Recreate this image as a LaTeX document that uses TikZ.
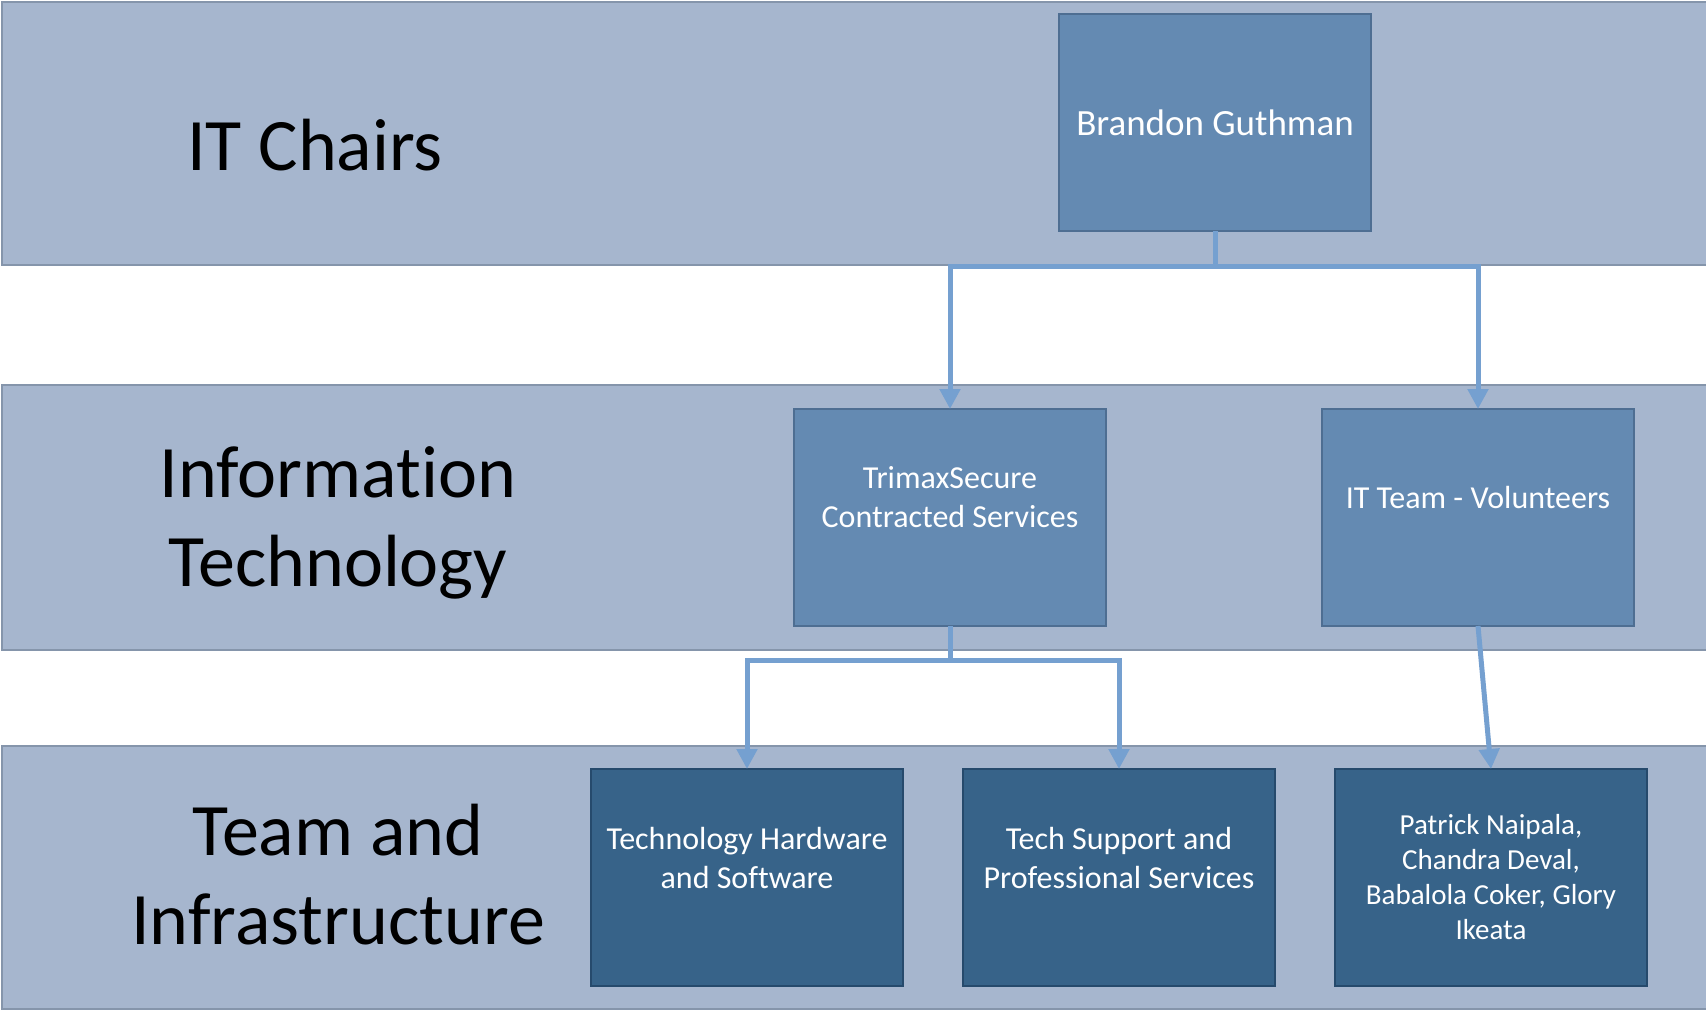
\documentclass[tikz,border=0pt]{standalone}
\usepackage{fontspec}
\setmainfont{Carlito}[Ligatures=NoCommon]
\usetikzlibrary{arrows.meta,positioning}
\definecolor{bandfill}{HTML}{A6B6CE}
\definecolor{bandline}{HTML}{8595AB}
\definecolor{midfill}{HTML}{648AB2}
\definecolor{midline}{HTML}{4E6E92}
\definecolor{lowfill}{HTML}{376389}
\definecolor{lowline}{HTML}{264A6C}
\definecolor{linkblue}{HTML}{75A0D0}
\tikzset{
  band/.style={draw=bandline,fill=bandfill,line width=2pt,anchor=north west,
    minimum width=1760pt,minimum height=263pt,inner sep=0pt,outer sep=0pt},
  bandlabel/.style={font=\fontsize{74}{89}\selectfont,align=center,text=black},
  midbox/.style={draw=midline,fill=midfill,line width=2pt,anchor=north west,
    minimum width=312pt,minimum height=217pt,inner sep=0pt,outer sep=0pt},
  lowbox/.style={midbox,draw=lowline,fill=lowfill},
  boxtext/.style={text=white,align=center,font=\fontsize{32}{39}\selectfont},
  link/.style={draw=linkblue,line width=5pt,-{Triangle[width=20pt,length=20pt]}},
}
\begin{document}
\begin{tikzpicture}[x=1pt,y=-1pt]
\useasboundingbox (0,0) rectangle (1706,1010);
% lanes
\node[band] (chairs) at (2,2) {};
\node[band,minimum height=265pt] (infotech) at (2,385) {};
\node[band] (infra) at (2,746) {};
\node[bandlabel] (chairslbl) at (315,145) {IT Chairs};
\node[bandlabel] (infotechlbl) at (338,523) {Information\\Technology};
\node[bandlabel] (infralbl) at (338,875) {Team and\\Infrastructure};
% boxes
\node[midbox] (brandon) at (1059,14) {};
\node[midbox] (trimax) at (794,409) {};
\node[midbox] (itteam) at (1322,409) {};
\node[lowbox] (hardware) at (591,769) {};
\node[lowbox] (support) at (963,769) {};
\node[lowbox] (volunteers) at (1335,769) {};
\node[boxtext,font=\fontsize{37}{44}\selectfont] (brandontxt) at (brandon.center) {Brandon Guthman};
\node[boxtext] (trimaxtxt) at ([yshift=20pt]trimax.center) {TrimaxSecure\\Contracted Services};
\node[boxtext] (itteamtxt) at ([yshift=20pt]itteam.center) {IT Team - Volunteers};
\node[boxtext] (hardwaretxt) at ([yshift=20pt]hardware.center) {Technology Hardware\\and Software};
\node[boxtext] (supporttxt) at ([yshift=20pt]support.center) {Tech Support and\\Professional Services};
\node[boxtext,font=\fontsize{29}{35}\selectfont] (volunteerstxt) at (volunteers.center)
  {Patrick Naipala,\\Chandra Deval,\\Babalola Coker, Glory\\Ikeata};
% links
\draw[link] (brandon.south) -- ++(0,35) -| (trimax.north);
\draw[link] (brandon.south) -- ++(0,35) -| (itteam.north);
\draw[link] (trimax.south) -- ++(0,34) -| (hardware.north);
\draw[link] (trimax.south) -- ++(0,34) -| (support.north);
\draw[link] (itteam.south) -- (volunteers.north);
\end{tikzpicture}
\end{document}
